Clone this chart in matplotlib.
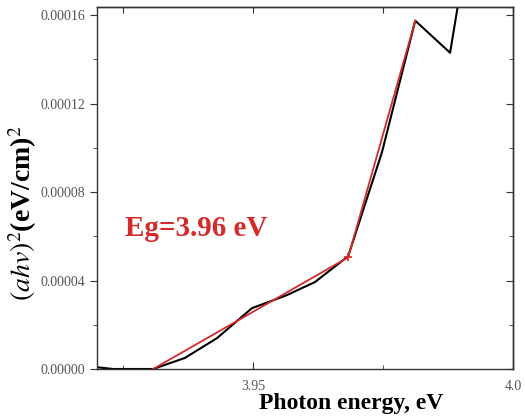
import matplotlib
matplotlib.use("Agg")
import matplotlib.pyplot as plt
from matplotlib.ticker import MultipleLocator, FormatStrFormatter

# data
energy = [3.9200, 3.9231, 3.9308, 3.9369, 3.9431, 3.9498, 3.9565, 3.9619, 3.9683, 3.9748, 3.9812, 3.9879, 3.9905]
ahv2 = [0.0000008, 0.0, 0.0, 0.0000050, 0.0000140, 0.0000275, 0.0000334, 0.0000393, 0.0000510, 0.0000980, 0.0001575, 0.0001430, 0.0001800]
fit_energy = [3.9308, 3.9683, 3.9812]
fit_ahv2 = [0.0, 0.0000505, 0.0001575]
x_ticks = [3.95, 4.0]
annotation = "Eg=3.96 eV"

plt.rcParams['font.family'] = ['Liberation Serif', 'DejaVu Serif']
plt.rcParams['mathtext.fontset'] = 'stix'

fig = plt.figure(figsize=(5.25, 4.2), dpi=100)
ax = fig.add_axes([97/525, 1-369/420, 416/525, 362/420])

ax.plot(energy, ahv2, color='black', lw=1.5, zorder=2)
ax.plot(fit_energy, fit_ahv2, color='#d42a2a', lw=1.3, zorder=3)
ax.plot([fit_energy[1]], [fit_ahv2[1]], marker='+', color='#d42a2a', ms=6, mew=1.2, zorder=4)

ax.set_xlim(3.92, 4.0)
ax.set_ylim(0, 0.0001637)

ax.set_xticks(x_ticks)
ax.set_xticklabels(["3.95", "4.0"])
ax.xaxis.set_minor_locator(MultipleLocator(0.025))
ax.yaxis.set_major_locator(MultipleLocator(0.00004))
ax.yaxis.set_minor_locator(MultipleLocator(0.00002))
ax.yaxis.set_major_formatter(FormatStrFormatter('%.5f'))

ax.tick_params(axis='x', which='major', direction='in', length=5, labelsize=10, colors='#333333', pad=8)
ax.tick_params(axis='x', which='minor', direction='in', length=3, colors='#333333')
ax.tick_params(axis='y', which='major', direction='out', length=5, labelsize=10, colors='#333333')
ax.tick_params(axis='y', which='minor', direction='out', length=3, colors='#333333')
for lab in ax.get_xticklabels() + ax.get_yticklabels():
    lab.set_color('#555555')

sec_y = ax.secondary_yaxis('right')
sec_y.yaxis.set_major_locator(MultipleLocator(0.00004))
sec_y.yaxis.set_minor_locator(MultipleLocator(0.00002))
sec_y.tick_params(which='major', direction='in', length=5, labelright=False, colors='#333333')
sec_y.tick_params(which='minor', direction='in', length=3, labelright=False, colors='#333333')
sec_x = ax.secondary_xaxis('top')
sec_x.xaxis.set_major_locator(MultipleLocator(0.025))
sec_x.tick_params(which='major', direction='in', length=4, labeltop=False, colors='#333333')
sec_x.xaxis.set_minor_locator(MultipleLocator(0.0125))
sec_x.tick_params(which='minor', length=0)
for s in list(ax.spines.values()) + list(sec_y.spines.values()) + list(sec_x.spines.values()):
    s.set_color('#333333')
    s.set_linewidth(1.0)

ax.set_xlabel("Photon energy, eV", fontsize=17, fontweight='bold')
ax.xaxis.set_label_coords(0.61, -0.065)
ax.set_ylabel(r"$(ahv)^2$(eV/cm)$^2$", fontsize=20, fontweight='bold')
ax.yaxis.set_label_coords(-0.14, 0.43)

ax.text(3.9254, 0.0000637, annotation, color='#d42a2a', fontsize=21, fontweight='bold', va='center', ha='left')

fig.savefig("out.png", dpi=100)
